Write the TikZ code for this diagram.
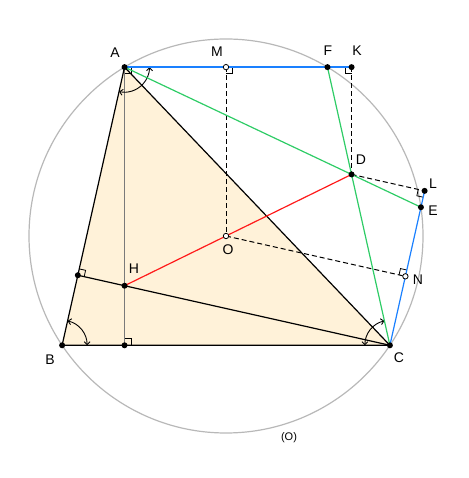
\documentclass[tikz,border=0pt]{standalone}
\usepackage{fontspec}
\setmainfont{Liberation Sans}
\usetikzlibrary{calc,intersections,arrows.meta}
\definecolor{cream}{HTML}{FFF2D9}
\definecolor{cblue}{HTML}{1A80FF}
\definecolor{cgreen}{HTML}{2ECC66}
\definecolor{cred}{HTML}{FF1A1A}
\definecolor{cgrayc}{HTML}{B8B8B8}
\definecolor{cgraya}{HTML}{7A7A7A}
\newcommand{\ramark}[3]{%
  \coordinate (ra1) at ($(#1)!6.5pt!(#2)$);%
  \coordinate (ra2) at ($(#1)!6.5pt!(#3)$);%
  \draw[ramk] (ra1) -- ($(ra1)+(ra2)-(#1)$) -- (ra2);}
\begin{document}
\begin{tikzpicture}[x=1pt,y=1pt,
  lbl/.style={font=\fontsize{14}{16}\selectfont, inner sep=0pt},
  seg/.style={line width=1.2pt},
  dsh/.style={line width=1pt, dash pattern=on 5pt off 3pt},
  ramk/.style={line width=0.8pt},
  angarc/.style={line width=0.9pt, {Straight Barb[length=3pt,width=6pt]}-{Straight Barb[length=3pt,width=6pt]}},
  dot/.style={fill=black},
  odot/.style={fill=white, draw=black, line width=0.8pt}]
\useasboundingbox (0,0) rectangle (468,478);
% points
\coordinate (O) at (226,242);
\coordinate (A) at ($(O)+(121:197)$);
\coordinate (B) at ($(O)+(213.7:197)$);
\coordinate (C) at ($(O)+(326.3:197)$);
\coordinate (F) at ($(O)+(59:197)$);
\coordinate (Hf) at ($(B)!(A)!(C)$);
\coordinate (Pf) at ($(A)!(C)!(B)$);
\coordinate (H) at (intersection of A--Hf and C--Pf);
\coordinate (D) at (intersection of H--O and C--F);
\path[name path=circ] (O) circle[radius=197];
\path[name path=lineAD] ($(A)!0.2!(D)$) -- ($(A)!3!(D)$);
\path[name intersections={of=circ and lineAD, by={E}}];
\coordinate (M) at ($(A)!(O)!(F)$);
\coordinate (K) at ($(A)!(D)!(F)$);
\coordinate (N) at ($(C)!(O)!(E)$);
\coordinate (L) at ($(C)!(D)!(E)$);
% triangle fill
\fill[cream] (A) -- (B) -- (C) -- cycle;
% circle
\draw[cgrayc, line width=1.2pt] (O) circle[radius=197];
% altitude from A
\draw[line width=1.5pt, cgraya] (A) -- (Hf);
% triangle edges
\draw[seg] (A) -- (B) -- (C) -- cycle;
\draw[seg] (C) -- (Pf);
% dashed
\draw[dsh] (M) -- (O);
\draw[dsh] (O) -- (N);
\draw[dsh] (K) -- (D);
\draw[dsh] (D) -- (L);
% right angle marks
\ramark{A}{F}{Hf}
\ramark{M}{F}{O}
\ramark{K}{A}{D}
\ramark{L}{D}{C}
\ramark{N}{O}{E}
\ramark{Hf}{C}{A}
\ramark{Pf}{C}{A}
% angle arcs
\draw[angarc] ($(A)+(257.4:25)$) arc[start angle=257.4, end angle=360, radius=25];
\draw[angarc] ($(B)+(0:25)$) arc[start angle=0, end angle=77.4, radius=25];
\draw[angarc] ($(C)+(102.6:25)$) arc[start angle=102.6, end angle=180, radius=25];
% coloured lines
\draw[line width=1.5pt, draw=cblue] (A) -- (K);
\draw[seg, draw=cblue] (C) -- (L);
\draw[seg, draw=cgreen] (A) -- (E);
\draw[seg, draw=cgreen] (C) -- (F);
\draw[seg, draw=cred] (H) -- (D);
% dots
\foreach \p in {A,B,C,F,K,D,L,E,H,Hf,Pf} \fill[dot] (\p) circle[radius=3];
\foreach \p in {M,O,N} \filldraw[odot] (\p) circle[radius=2.7];
% labels
\node[lbl] (lA) at (115,425) {A};
\node[lbl] (lM) at (217,426) {M};
\node[lbl] (lF) at (328,427) {F};
\node[lbl] (lK) at (357,427) {K};
\node[lbl] (lD) at (361,318) {D};
\node[lbl] (lL) at (433,294) {L};
\node[lbl] (lE) at (433,267) {E};
\node[lbl] (lO) at (228,228) {O};
\node[lbl] (lN) at (418,198) {N};
\node[lbl] (lH) at (134,209) {H};
\node[lbl] (lB) at (50,118) {B};
\node[lbl] (lC) at (399,120) {C};
\node[lbl, font=\fontsize{11}{13}\selectfont] (lcirc) at (289,40) {(O)};
\end{tikzpicture}
\end{document}
